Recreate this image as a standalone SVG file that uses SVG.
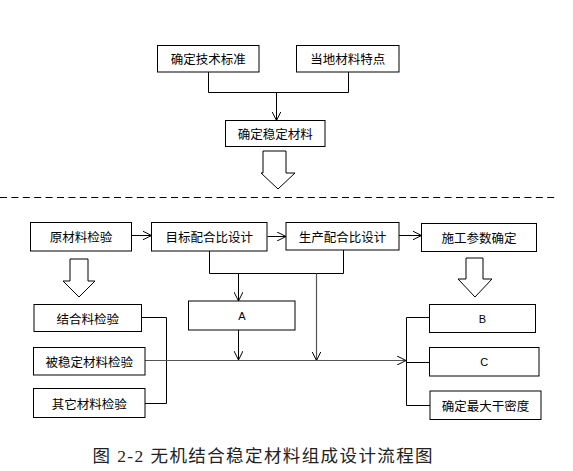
<svg xmlns="http://www.w3.org/2000/svg" width="573" height="471" viewBox="0 0 573 471">
<defs>
<style>
.box{fill:#fff;stroke:#000;stroke-width:1}
.t{font-family:"Noto Sans CJK SC","Liberation Sans",sans-serif;font-size:12.5px;fill:#000;text-anchor:middle;dominant-baseline:central}
.l{font-family:"Liberation Sans",sans-serif;font-size:11px;fill:#000;text-anchor:middle;dominant-baseline:central}
.c{fill:none;stroke:#000;stroke-width:1}
.g{fill:none;stroke:#555;stroke-width:1.2}
.blk{fill:#fff;stroke:#000;stroke-width:1}
</style>
<marker id="ah" viewBox="0 0 10 10" refX="10" refY="5" markerWidth="9" markerHeight="9" markerUnits="userSpaceOnUse" orient="auto">
<path d="M0,0 L10,5 L0,10" fill="none" stroke="#000" stroke-width="1.1"/>
</marker>
</defs>
<rect width="573" height="471" fill="#fff"/>

<g id="connectors">
<polyline class="c" points="208.5,72 208.5,92.5 348.5,92.5 348.5,72"/>
<line class="c" x1="276.5" y1="92.5" x2="276.5" y2="120.5" marker-end="url(#ah)"/>
<line x1="0" y1="197.5" x2="556" y2="197.5" stroke="#000" stroke-width="1" stroke-dasharray="7,4.4"/>
<line class="c" x1="131.5" y1="235.5" x2="151.5" y2="235.5" marker-end="url(#ah)"/>
<line class="c" x1="267.5" y1="236.5" x2="286" y2="236.5" marker-end="url(#ah)"/>
<line class="c" x1="399" y1="235.5" x2="421.5" y2="235.5" marker-end="url(#ah)"/>
<polyline class="c" points="209.5,251 209.5,273.5 343.5,273.5 343.5,250"/>
<line class="c" x1="238.5" y1="273.5" x2="238.5" y2="301" marker-end="url(#ah)"/>
<line class="c" x1="238.5" y1="330" x2="238.5" y2="360" marker-end="url(#ah)"/>
<line class="g" x1="316.5" y1="273.5" x2="316.5" y2="360.5" marker-end="url(#ah)"/>
<polyline class="c" points="141.5,317.5 166.5,317.5 166.5,403.5 145,403.5"/>
<line class="g" x1="143" y1="360.5" x2="406" y2="360.5" marker-end="url(#ah)"/>
<polyline class="c" points="429.5,317.5 406.5,317.5 406.5,405.5 430,405.5"/>
<line class="c" x1="406.5" y1="362.5" x2="429.5" y2="362.5"/>
</g>

<g id="n1"><rect class="box" x="157.5" y="45.5" width="101.5" height="26.5"/><text class="t" x="208.3" y="58.8">确定技术标准</text></g>
<g id="n2"><rect class="box" x="296.5" y="45.5" width="102.5" height="26.5"/><text class="t" x="347.7" y="58.8">当地材料特点</text></g>
<g id="n3"><rect class="box" x="225.5" y="120.5" width="99.5" height="26"/><text class="t" x="275.2" y="133.5">确定稳定材料</text></g>
<g id="arrow1"><polygon class="blk" points="263,151 286,151 286,173 295,173 278,189 261,173 263,173"/></g>

<g id="n4"><rect class="box" x="30.5" y="222.5" width="101" height="28.5"/><text class="t" x="81" y="236.8">原材料检验</text></g>
<g id="n5"><rect class="box" x="151.5" y="222.5" width="115.5" height="28.5"/><text class="t" x="209.3" y="236.8">目标配合比设计</text></g>
<g id="n6"><rect class="box" x="286" y="222.5" width="113" height="27.5"/><text class="t" x="342.5" y="236.3">生产配合比设计</text></g>
<g id="n7"><rect class="box" x="421.5" y="223.5" width="115" height="28"/><text class="t" x="479" y="237.5">施工参数确定</text></g>

<g id="arrow2"><polygon class="blk" points="70,259 88,259 88,281 95,281 79,297 63,281 70,281"/></g>
<g id="arrow3"><polygon class="blk" points="466,258 483,258 483,279 492,279 475,297 458,279 466,279"/></g>

<g id="n8"><rect class="box" x="34" y="304.5" width="107.5" height="27"/><text class="t" x="87.8" y="318">结合料检验</text></g>
<g id="n9"><rect class="box" x="33.5" y="347.5" width="111.5" height="27.5"/><text class="t" x="89.3" y="361.3">被稳定材料检验</text></g>
<g id="n10"><rect class="box" x="33.5" y="388.5" width="111.5" height="29"/><text class="t" x="89.3" y="403">其它材料检验</text></g>

<g id="nA"><rect class="box" x="188.5" y="301" width="106.5" height="29"/><text class="l" x="241.8" y="315.5">A</text></g>
<g id="nB"><rect class="box" x="429.5" y="304.5" width="106" height="28"/><text class="l" x="482.5" y="318.5">B</text></g>
<g id="nC"><rect class="box" x="429.5" y="347.5" width="109.5" height="28.5"/><text class="l" x="484.3" y="361.8">C</text></g>
<g id="n11"><rect class="box" x="430" y="391" width="111" height="28.5"/><text class="t" x="485.5" y="405.3">确定最大干密度</text></g>

<text x="92.5" y="462" font-family="'Liberation Serif','Noto Sans CJK SC',serif" font-size="17.5px" fill="#222" letter-spacing="1.4">图 2-2  无机结合稳定材料组成设计流程图</text>
</svg>
